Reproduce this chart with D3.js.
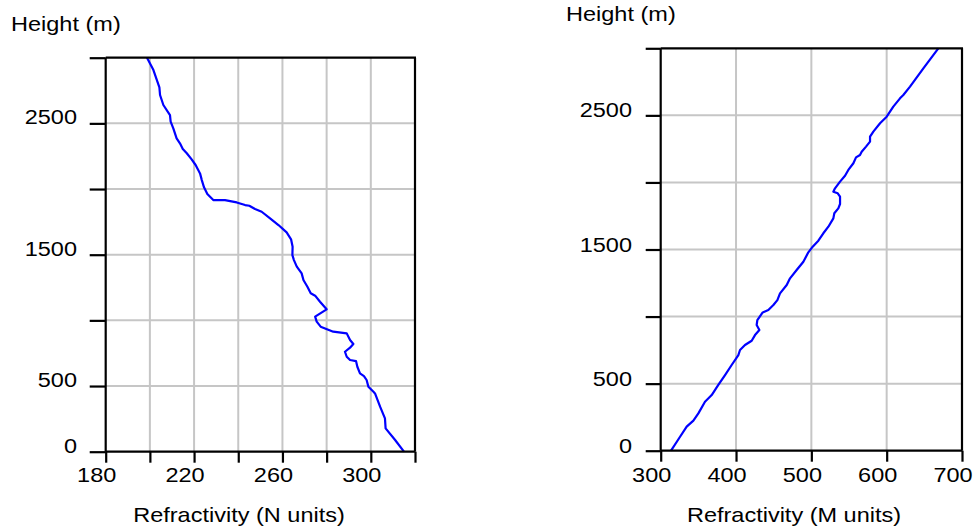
<!DOCTYPE html>
<html>
<head>
<meta charset="utf-8">
<script src="https://cdn.jsdelivr.net/npm/d3@7/dist/d3.min.js"></script>
<style>
  html, body { margin: 0; padding: 0; background: #fff; }
  svg { display: block; }
  text { font-family: "Liberation Sans", Arial, sans-serif; fill: #000; }
</style>
</head>
<body>
<svg id="chart" width="974" height="529"></svg>
<script>
// ---- Data: left panel (N units) ----
const nHeights = [3000, 2906, 2774, 2716, 2640, 2563, 2513, 2462, 2386, 2348, 2305, 2272, 2226, 2183, 2119, 2068, 2013, 1962, 1916, 1916, 1898, 1878, 1873, 1848, 1827, 1777, 1726, 1670, 1617, 1561, 1497, 1459, 1409, 1358, 1307, 1256, 1206, 1188, 1142, 1084, 1028, 990, 952, 914, 901, 850, 820, 792, 761, 723, 698, 690, 647, 596, 576, 546, 495, 457, 444, 343, 254, 178, 89, 0];
const nValues  = [198.7, 201.6, 204.3, 204.6, 206.1, 209.1, 209.4, 210.6, 212.1, 213.6, 214.9, 216.7, 218.9, 220.7, 222.7, 223.5, 224.5, 226.0, 228.7, 234.0, 239.3, 243.1, 245.0, 247.6, 250.6, 254.4, 258.2, 261.9, 263.9, 264.6, 264.5, 265.2, 266.5, 268.7, 269.5, 271.3, 272.8, 274.8, 277.0, 280.0, 274.8, 275.5, 277.3, 283.0, 289.1, 290.6, 292.1, 290.6, 288.3, 289.1, 290.6, 293.3, 293.9, 295.1, 296.9, 298.1, 298.9, 301.2, 301.9, 304.2, 306.4, 306.7, 311.0, 315.0];
const nXTicks = [180, 200, 220, 240, 260, 280, 300, 320];
const nXLabels = [180, 220, 260, 300];

// ---- Data: right panel (M units) ----
const mHeights = [0, 104, 179, 224, 278, 365, 415, 490, 564, 639, 713, 751, 788, 820, 862, 900, 937, 974, 1031, 1049, 1086, 1123, 1173, 1235, 1285, 1347, 1409, 1479, 1521, 1566, 1621, 1670, 1732, 1770, 1807, 1839, 1894, 1919, 1931, 1956, 2006, 2050, 2093, 2143, 2187, 2205, 2229, 2267, 2304, 2341, 2379, 2441, 2490, 2565, 2627, 2652, 2714, 2851, 3000];
const mValues  = [313.7, 325.7, 334.5, 343.4, 350.0, 358.8, 367.7, 376.5, 385.4, 394.2, 403.1, 405.3, 411.9, 420.8, 425.2, 431.0, 427.4, 428.3, 435.4, 442.9, 449.6, 454.9, 458.4, 467.3, 471.7, 480.5, 489.4, 496.0, 501.8, 509.3, 515.9, 522.6, 529.2, 530.5, 535.8, 538.1, 538.1, 535.0, 529.2, 531.4, 538.1, 544.7, 549.1, 555.8, 559.3, 564.6, 566.8, 572.6, 577.9, 577.9, 582.3, 591.2, 600.0, 608.8, 617.7, 622.1, 631.0, 648.7, 668.6];
const mXTicks = [300, 400, 500, 600, 700];
const mXLabels = [300, 400, 500, 600, 700];

// ---- Shared ----
const yTicks = [0, 500, 1000, 1500, 2000, 2500, 3000];
const yLabels = [0, 500, 1500, 2500];
const yTitle = "Height (m)";
const nTitle = "Refractivity (N units)";
const mTitle = "Refractivity (M units)";

const svg = d3.select("#chart");
const FS = 21, SX = 1.12;

function addText(g, str, x, y, anchor) {
  g.append("text")
    .attr("transform", `translate(${x},${y}) scale(${SX},1)`)
    .attr("text-anchor", anchor)
    .style("font-size", FS + "px")
    .text(str);
}

function panel(cfg) {
  const x = d3.scaleLinear().domain(cfg.xDomain).range([cfg.left, cfg.right]);
  const y = d3.scaleLinear().domain([0, 3000]).range([cfg.bottom, cfg.top]);
  const g = svg.append("g");

  // grid
  g.append("g").selectAll("line").data(cfg.xTicks.slice(1, -1)).join("line")
    .attr("x1", d => x(d)).attr("x2", d => x(d))
    .attr("y1", cfg.top).attr("y2", cfg.bottom)
    .attr("stroke", "#c6c6c6").attr("stroke-width", 2);
  g.append("g").selectAll("line").data(yTicks.slice(1, -1)).join("line")
    .attr("x1", cfg.left).attr("x2", cfg.right)
    .attr("y1", d => y(d)).attr("y2", d => y(d))
    .attr("stroke", "#c6c6c6").attr("stroke-width", 2);

  // data line
  const pts = cfg.values.map((v, i) => [v, cfg.heights[i]]);
  g.append("path").datum(pts)
    .attr("d", d3.line().x(d => x(d[0])).y(d => y(d[1])))
    .attr("fill", "none").attr("stroke", "#0000ff").attr("stroke-width", 2.2)
    .attr("stroke-linejoin", "round");

  // axes via d3 axis
  const yAxis = d3.axisLeft(y).tickValues(yTicks).tickSize(cfg.yTickLen).tickFormat("");
  const ya = g.append("g").attr("transform", `translate(${cfg.left},0)`).call(yAxis);
  const xAxis = d3.axisBottom(x).tickValues(cfg.xTicks).tickSize(11).tickFormat("");
  const xa = g.append("g").attr("transform", `translate(0,${cfg.bottom})`).call(xAxis);
  [ya, xa].forEach(a => {
    a.select(".domain").attr("stroke", "#000").attr("stroke-width", 2.2);
    a.selectAll(".tick line").attr("stroke", "#000").attr("stroke-width", 2.2);
  });
  xa.select(".domain").attr("d", `M${cfg.left},0H${cfg.right}`);
  ya.select(".domain").attr("d", `M0,${cfg.bottom}V${cfg.top}`);

  // top & right border
  g.append("line").attr("x1", cfg.left).attr("x2", cfg.right + 1)
    .attr("y1", cfg.top).attr("y2", cfg.top).attr("stroke", "#000").attr("stroke-width", 2.2);
  g.append("line").attr("x1", cfg.right).attr("x2", cfg.right)
    .attr("y1", cfg.top).attr("y2", cfg.bottom).attr("stroke", "#000").attr("stroke-width", 2.2);

  // labels
  yLabels.forEach(v => addText(g, String(v), cfg.yLabelX, y(v) + cfg.yLabelDy, "end"));
  cfg.xLabels.forEach(v => addText(g, String(v), x(v) - 9, 482, "middle"));
  addText(g, yTitle, cfg.yTitleX, cfg.yTitleY, "start");
  addText(g, cfg.xTitle, cfg.xTitleX, 522, "middle");
}

panel({
  heights: nHeights, values: nValues, xDomain: [180, 320], xTicks: nXTicks, xLabels: nXLabels,
  left: 105.7, right: 415, top: 57.7, bottom: 451.7, yTickLen: 16,
  yLabelX: 77, yLabelDy: 1, yTitleX: 11, yTitleY: 31, xTitle: nTitle, xTitleX: 239
});
panel({
  heights: mHeights, values: mValues, xDomain: [300, 700], xTicks: mXTicks, xLabels: mXLabels,
  left: 660.7, right: 962, top: 48.3, bottom: 450.7, yTickLen: 15,
  yLabelX: 632, yLabelDy: 2, yTitleX: 566, yTitleY: 20.5, xTitle: mTitle, xTitleX: 794
});
</script>
</body>
</html>
